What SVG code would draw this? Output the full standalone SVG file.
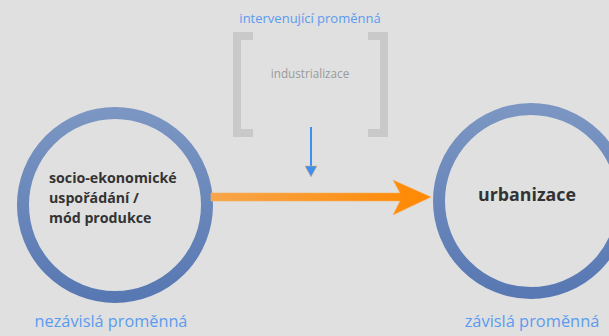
<svg xmlns="http://www.w3.org/2000/svg" width="609" height="336" viewBox="0 0 609 336">
<defs>
<linearGradient id="ring" x1="0" y1="0" x2="0" y2="1">
<stop offset="0" stop-color="#7b96c2"/>
<stop offset="1" stop-color="#5878b3"/>
</linearGradient>
<linearGradient id="org" x1="0" y1="0" x2="1" y2="0">
<stop offset="0" stop-color="#f7a64a"/>
<stop offset="1" stop-color="#ff8800"/>
</linearGradient>
<style>
.ring{fill:none;stroke:url(#ring);stroke-width:12}
.lbl{font-family:"Open Sans","DejaVu Sans",sans-serif;fill:#5b9bef}
.node{font-family:"Open Sans","DejaVu Sans",sans-serif;font-weight:bold;fill:#333}
.br{fill:#c9c9c9}
</style>
</defs>
<rect width="609" height="336" fill="#e0e0e0"/>
<g id="intervening">
<text class="lbl" x="310" y="23" font-size="13" text-anchor="middle">intervenující proměnná</text>
<path class="br" d="M233,32 H253 V40 H241 V129 H253 V137 H233 Z"/>
<path class="br" d="M388,32 H368 V40 H380 V129 H368 V137 H388 Z"/>
<text x="310" y="78" font-size="11.7" text-anchor="middle" font-family="Open Sans, DejaVu Sans, sans-serif" fill="#9a9a9a">industrializace</text>
</g>
<g id="independent">
<circle class="ring" cx="115" cy="205" r="92"/>
<text class="node" font-size="14.2"><tspan x="49" y="183">socio-ekonomické</tspan><tspan x="49" y="203">uspořádání /</tspan><tspan x="49" y="223">mód produkce</tspan></text>
<text class="lbl" x="111" y="327" font-size="16.3" text-anchor="middle">nezávislá proměnná</text>
</g>
<g id="dependent">
<circle class="ring" cx="531" cy="201" r="92"/>
<text class="node" x="527" y="201" font-size="17.8" text-anchor="middle">urbanizace</text>
<text class="lbl" x="532" y="327" font-size="16.4" text-anchor="middle">závislá proměnná</text>
</g>
<g id="connectors">
<path d="M211,193 H400 L393,180 L431,197 L393,215 L400,201 H211 Z" fill="url(#org)" stroke="#f7b060" stroke-width="0.6"/>
<line x1="311" y1="127" x2="311" y2="167" stroke="#3f8fef" stroke-width="2"/>
<path d="M305,166 H317 L311,177 Z" fill="#3f8fef" stroke="#e8b060" stroke-width="0.5"/>
</g>
</svg>
